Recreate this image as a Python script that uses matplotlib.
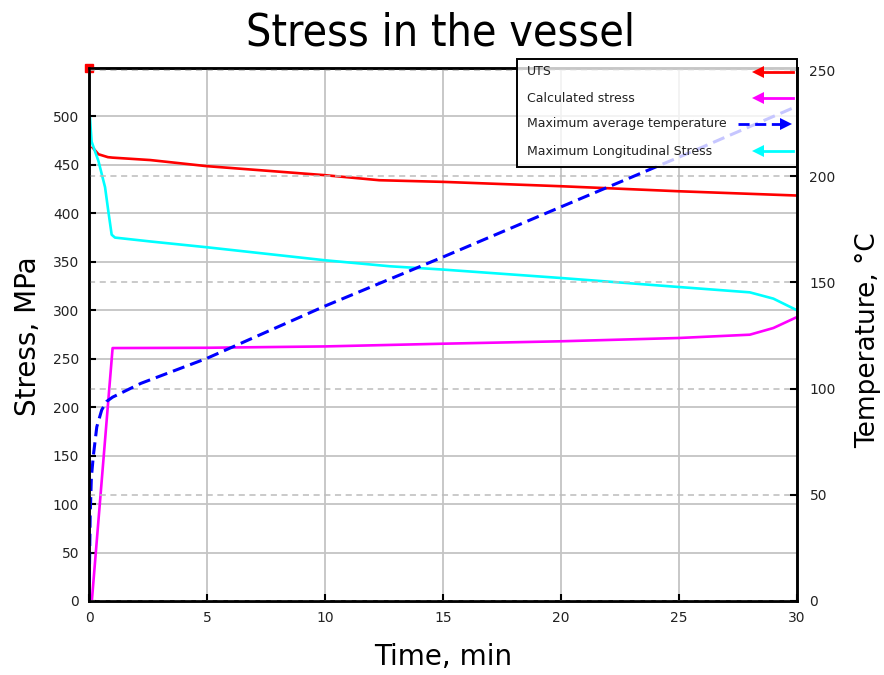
import matplotlib
matplotlib.use('Agg')
import matplotlib.pyplot as plt
from matplotlib.patches import Rectangle

# Time axis shared by all curves (min)
t_uts = [0.15, 0.4, 0.8, 1.0, 2.6, 5, 10, 12.3, 15, 20, 25, 30]
uts = [468, 461, 458, 457.5, 455, 448.7, 439.4, 434.2, 432.5, 428, 422.8, 418.4]

t_calc = [0, 0.12, 1.0, 5, 10, 15, 20, 25, 28, 29, 30]
calc_stress = [0, 0, 261, 261.3, 262.7, 265.5, 268, 271.4, 274.8, 281.7, 293]

t_temp = [0, 0.02, 0.05, 0.1, 0.18, 0.33, 0.54, 0.75, 1.0, 2.2, 5, 10, 15, 20, 25, 30]
max_temp = [0, 15, 40, 58, 68, 82, 90, 94, 96, 102.5, 114.3, 138.9, 162, 185.6, 209, 233]

t_long = [0, 0.04, 0.11, 0.4, 0.68, 0.82, 0.96, 1.1, 2.6, 5, 10, 12.75, 15, 20, 25, 28, 29, 30]
long_stress = [500, 499, 474, 454, 427, 402, 378, 375, 371, 365, 351.6, 345.4, 342, 333.3,
               324, 318.5, 312, 300]

stress_ticks = list(range(0, 501, 50))
temp_ticks = [0, 50, 100, 150, 200, 250]
time_ticks = [0, 5, 10, 15, 20, 25, 30]

legend_labels = ['UTS', 'Calculated stress', 'Maximum average temperature',
                 'Maximum Longitudinal Stress']
legend_colors = ['#ff0000', '#ff00ff', '#0000ff', '#00ffff']

plt.rcParams['font.family'] = 'DejaVu Sans'

fig = plt.figure(figsize=(8.84, 6.75), dpi=100)
ax = fig.add_axes([89 / 884, 1 - 601 / 675, 708 / 884, 533 / 675])
ax2 = ax.twinx()

# Stress curves
ax.plot(t_uts, uts, color='#ff0000', lw=1.9)
ax.plot(t_calc, calc_stress, color='#ff00ff', lw=1.9)
ax.plot(t_long, long_stress, color='#00ffff', lw=1.9)
ax.plot([0], [550], marker='s', color='#ff0000', ms=6, clip_on=False, zorder=10)

# Temperature on right axis
ax2.plot(t_temp, max_temp, color='#0000ff', lw=2.2, ls=(0, (4, 2)))

ax.set_xlim(0, 30)
ax.set_ylim(0, 550)
ax2.set_ylim(0, 251)
ax.set_xticks(time_ticks)
ax.set_yticks(stress_ticks)
ax2.set_yticks(temp_ticks)

ax.grid(True, color='#c4c4c4', lw=1.3)
ax2.yaxis.grid(True, color='#bcbcbc', lw=1.1, ls=(0, (4, 3)))
ax.set_axisbelow(True)

for a in (ax, ax2):
    for s in a.spines.values():
        s.set_linewidth(1.8)
        s.set_color('black')
ax.tick_params(direction='in', length=5, width=1.5, labelsize=10, pad=7,
               labelcolor='#222222')
ax2.tick_params(direction='in', length=5, width=1.5, labelsize=10, pad=9,
                labelcolor='#222222')

# Legend drawn by hand: text on the left, arrow samples on the right
tr = ax2.transAxes
ax2.add_patch(Rectangle((0.6045, 0.814), 0.3955, 0.203, transform=tr, facecolor='white',
                        alpha=0.78, edgecolor='none', clip_on=False, zorder=20))
ax2.add_patch(Rectangle((0.6045, 0.814), 0.3955, 0.203, transform=tr, facecolor='none',
                        edgecolor='black', lw=1.4, clip_on=False, zorder=21))
rows = [0.9925, 0.9437, 0.895, 0.844]
for lab, col, y in zip(legend_labels, legend_colors, rows):
    ax2.text(0.6186, y, lab, transform=tr, fontsize=9, color='#222222', va='center',
             ha='left', zorder=22)
    if col == '#0000ff':
        ax2.plot([0.917, 0.985], [y, y], transform=tr, color=col, lw=2, ls=(0, (4, 2)),
                 clip_on=False, zorder=22)
        ax2.plot([0.985], [y], transform=tr, color=col, marker='>', ms=9, mew=0,
                 clip_on=False, zorder=22)
    else:
        ax2.plot([0.945, 0.994], [y, y], transform=tr, color=col, lw=2, clip_on=False,
                 zorder=22)
        ax2.plot([0.945], [y], transform=tr, color=col, marker='<', ms=9, mew=0,
                 clip_on=False, zorder=22)

fig.text(441 / 884, 1 - 33 / 675, 'Stress in the vessel', fontsize=32, ha='center',
         va='center', fontstretch='condensed')
fig.text(443 / 884, 1 - 657 / 675, 'Time, min', fontsize=20, ha='center', va='center')
fig.text(28 / 884, 1 - 336 / 675, 'Stress, MPa', fontsize=20, ha='center', va='center',
         rotation=90)
fig.text(868 / 884, 1 - 340 / 675, 'Temperature, °C', fontsize=19, ha='center',
         va='center', rotation=90)

fig.savefig('out.png', dpi=100, facecolor='white')
